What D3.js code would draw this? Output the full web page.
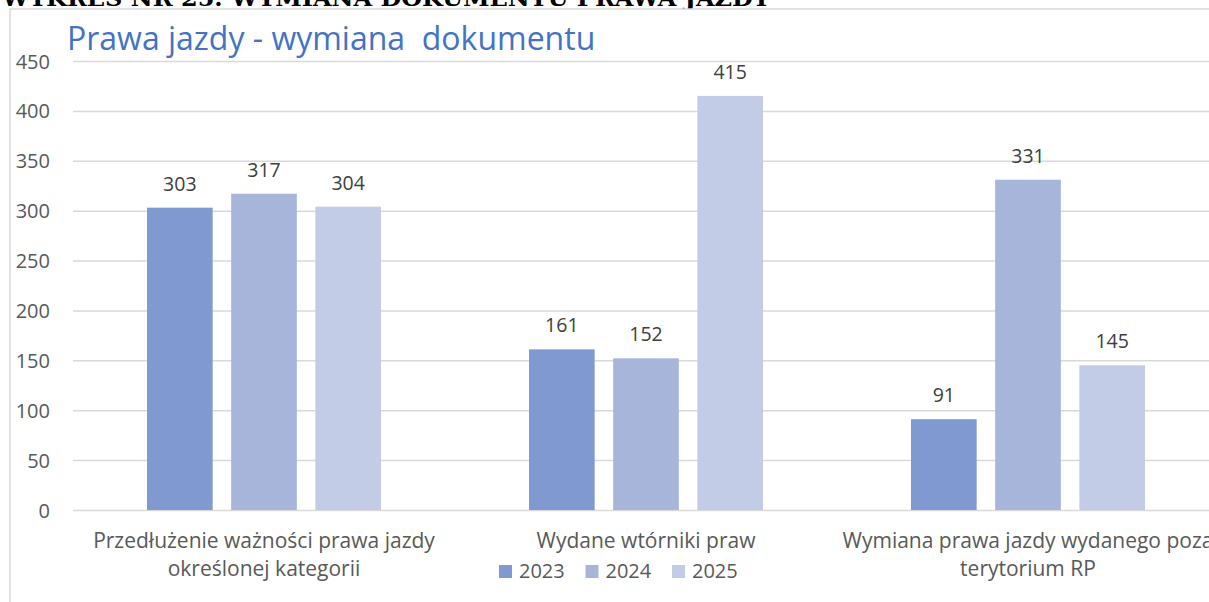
<!DOCTYPE html>
<html>
<head>
<meta charset="utf-8">
<script src="https://cdn.jsdelivr.net/npm/d3@7"></script>
<style>
	body { margin: 0; background: #fff; overflow: hidden; }
	svg { display: block; }
	.axis text { font-family: 'Open Sans', sans-serif; font-size: 20px; fill: #595959; }
	.axis .domain { display: none; }
	.axis line { stroke: #d9d9d9; stroke-width: 1.5; }
</style>
</head>
<body>
<div class="chart"></div>
<script>
const categories = [
	['Przedłużenie ważności prawa jazdy', 'określonej kategorii'],
	['Wydane wtórniki praw'],
	['Wymiana prawa jazdy wydanego poza', 'terytorium RP'],
]
const years = ['2023', '2024', '2025']
const values2023 = [303, 161, 91]
const values2024 = [317, 152, 331]
const values2025 = [304, 415, 145]
const yTicks = [0, 50, 100, 150, 200, 250, 300, 350, 400, 450]
const colors = ['#8099d0', '#a7b5da', '#c3cce6']

const seriesValues = [values2023, values2024, values2025]
const data = categories.map((c, i) => ({
	key: i,
	lines: c,
	vals: years.map((y, j) => ({ year: y, value: seriesValues[j][i] })),
}))

const width = 1209
const height = 602
const margin = { top: 61, right: -10, bottom: 92, left: 73 }
const font = 'Open Sans, sans-serif'

const svg = d3.select('.chart').append('svg')
	.attr('width', width)
	.attr('height', height)

// heading of the page, cut off by the top edge as in the source
svg.append('text')
	.attr('x', 2)
	.attr('y', 6)
	.attr('textLength', 768)
	.attr('lengthAdjust', 'spacingAndGlyphs')
	.style('font-family', 'DejaVu Serif, serif')
	.style('font-weight', 'bold')
	.style('font-size', '22px')
	.attr('fill', '#000')
	.text('WYKRES NR 25. WYMIANA DOKUMENTU PRAWA JAZDY')

// chart frame
svg.append('rect')
	.attr('x', 10)
	.attr('y', 9)
	.attr('width', width + 20)
	.attr('height', height + 20)
	.attr('fill', '#fff')
	.attr('stroke', '#d9d9d9')
	.attr('stroke-width', 1.5)

svg.append('text')
	.attr('x', 67)
	.attr('y', 50)
	.style('font-family', font)
	.style('font-size', '32px')
	.attr('fill', '#4472c4')
	.style('white-space', 'pre')
	.text('Prawa jazdy - wymiana  dokumentu')

const innerW = width - margin.left - margin.right
const innerH = height - margin.top - margin.bottom

const g = svg.append('g')
	.attr('transform', `translate(${margin.left},${margin.top})`)

const x0 = d3.scaleBand()
	.domain(data.map(d => d.key))
	.range([0, innerW])

const x1 = d3.scaleBand()
	.domain(years)
	.range([74, x0.bandwidth() - 74])
	.paddingInner(0.22)

const y = d3.scaleLinear()
	.domain([0, 450])
	.range([innerH, 0])

g.append('g')
	.attr('class', 'axis axis--y')
	.call(d3.axisLeft(y).tickValues(yTicks).tickSize(-innerW).tickPadding(23))
	.selectAll('text')
		.attr('dy', '0.35em')

const groups = g.append('g')
	.selectAll('g')
	.data(data)
	.enter().append('g')
		.attr('transform', d => `translate(${x0(d.key)},0)`)

groups.selectAll('rect')
	.data(d => d.vals)
	.enter().append('rect')
		.attr('x', d => x1(d.year))
		.attr('y', d => y(d.value))
		.attr('width', x1.bandwidth())
		.attr('height', d => y(0) - y(d.value))
		.attr('fill', (d, i) => colors[i])

groups.selectAll('.val')
	.data(d => d.vals)
	.enter().append('text')
		.attr('class', 'val')
		.attr('x', d => x1(d.year) + x1.bandwidth() / 2)
		.attr('y', d => y(d.value) - 17)
		.attr('text-anchor', 'middle')
		.style('font-family', font)
		.style('font-size', '19.5px')
		.attr('fill', '#404040')
		.text(d => d.value)

// category labels
groups.append('text')
	.attr('text-anchor', 'middle')
	.style('font-family', font)
	.style('font-size', '21px')
	.attr('fill', '#595959')
	.selectAll('tspan')
	.data(d => d.lines)
	.enter().append('tspan')
		.attr('x', x0.bandwidth() / 2)
		.attr('y', (d, i) => innerH + 38 + i * 28)
		.text(d => d)

// legend
const legend = svg.append('g')
	.attr('transform', 'translate(499,565)')

const item = legend.selectAll('g')
	.data(years)
	.enter().append('g')
		.attr('transform', (d, i) => `translate(${i * 86.5},0)`)

item.append('rect')
	.attr('width', 13)
	.attr('height', 13)
	.attr('fill', (d, i) => colors[i])

item.append('text')
	.attr('x', 20)
	.attr('y', 13)
	.style('font-family', font)
	.style('font-size', '20px')
	.attr('fill', '#595959')
	.text(d => d)
</script>
</body>
</html>
